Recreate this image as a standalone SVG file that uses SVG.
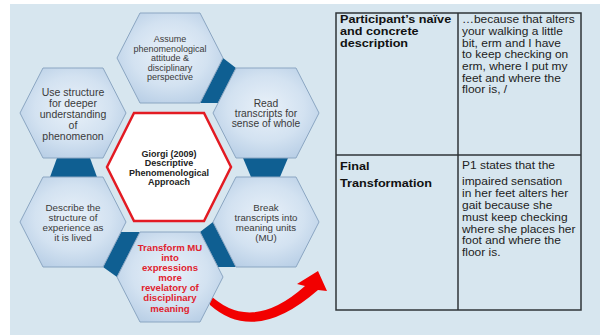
<svg xmlns="http://www.w3.org/2000/svg" width="606" height="335" viewBox="0 0 606 335">
<defs>
<radialGradient id="hexfill" cx="0.5" cy="0.45" r="0.6">
<stop offset="0" stop-color="#e9f1f9"/>
<stop offset="0.6" stop-color="#d3e2f1"/>
<stop offset="1" stop-color="#b9cfe6"/>
</radialGradient>
<style>
.hex{fill:url(#hexfill);stroke:#8ba6c2;stroke-width:1}
.conn{fill:#0f5f92}
.ht{font-family:"Liberation Sans",Arial,sans-serif;fill:#3a3a3a;text-anchor:middle}
.red{font-family:"Liberation Sans",Arial,sans-serif;fill:#e0232e;font-weight:bold;text-anchor:middle;font-size:9.6px}
.ctr{font-family:"Liberation Sans",Arial,sans-serif;fill:#222;font-weight:bold;text-anchor:middle;font-size:9px}
.tb{font-family:"Liberation Sans",Arial,sans-serif;font-size:10.8px;fill:#111;font-weight:bold}
.tr{font-family:"Liberation Sans",Arial,sans-serif;font-size:10.4px;fill:#222}
.cell{fill:none;stroke:#2f3438;stroke-width:1.5}
</style>
</defs>
<rect x="10" y="4" width="590" height="331" fill="#d7e6ef"/>

<g id="connectors">
<polygon class="conn" points="223,58 236,68 218,103 200,103"/>
<polygon class="conn" points="243,158 288,158 280,177 251,177"/>
<polygon class="conn" points="213,222 236,267 218,267 200,232"/>
<polygon class="conn" points="121,232 140,232 117,277 103,267"/>
<polygon class="conn" points="57,158 90,158 97,177 50,177"/>
<path d="M208,293 Q250,335 305,286 L297,284 L318,271 L327,291 L318,290 Q255,345 210,305 Z" fill="#f20000"/>
</g>

<g id="assume">
<polygon class="hex" points="117,58 140,13 200,13 223,58 200,103 140,103"/>
<text class="ht" font-size="9"><tspan x="170" y="42">Assume</tspan><tspan x="170" y="51.5">phenomenological</tspan><tspan x="170" y="61">attitude &amp;</tspan><tspan x="170" y="70.5">disciplinary</tspan><tspan x="170" y="80">perspective</tspan></text>
</g>

<g id="use">
<polygon class="hex" points="20,113 43,68 103,68 126,113 103,158 43,158"/>
<text class="ht" font-size="10.5"><tspan x="73" y="95.5">Use structure</tspan><tspan x="73" y="106.5">for deeper</tspan><tspan x="73" y="117.5">understanding</tspan><tspan x="73" y="128.5">of</tspan><tspan x="73" y="139.5">phenomenon</tspan></text>
</g>

<g id="read">
<polygon class="hex" points="213,113 236,68 296,68 319,113 296,158 236,158"/>
<text class="ht" font-size="10.3"><tspan x="266" y="107">Read</tspan><tspan x="266" y="117">transcripts for</tspan><tspan x="266" y="127">sense of whole</tspan></text>
</g>

<g id="describe">
<polygon class="hex" points="20,222 43,177 103,177 126,222 103,267 43,267"/>
<text class="ht" font-size="9.8"><tspan x="73" y="211">Describe the</tspan><tspan x="73" y="221">structure of</tspan><tspan x="73" y="231">experience as</tspan><tspan x="73" y="241">it is lived</tspan></text>
</g>

<g id="break">
<polygon class="hex" points="213,222 236,177 296,177 319,222 296,267 236,267"/>
<text class="ht" font-size="9.7"><tspan x="266" y="211">Break</tspan><tspan x="266" y="221">transcripts into</tspan><tspan x="266" y="231">meaning units</tspan><tspan x="266" y="241">(MU)</tspan></text>
</g>

<g id="transform">
<polygon class="hex" points="117,277 140,232 200,232 223,277 200,322 140,322"/>
<text class="red"><tspan x="170" y="250.5">Transform MU</tspan><tspan x="170" y="260.7">into</tspan><tspan x="170" y="270.9">expressions</tspan><tspan x="170" y="281">more</tspan><tspan x="170" y="291.2">revelatory of</tspan><tspan x="170" y="301.3">disciplinary</tspan><tspan x="170" y="311.5">meaning</tspan></text>
</g>

<g id="giorgi">
<polygon points="107,167 134,113 204,113 231,167 204,221 134,221" fill="#ffffff" stroke="#e31b23" stroke-width="2.5"/>
<text class="ctr"><tspan x="169" y="156.5">Giorgi (2009)</tspan><tspan x="169" y="166">Descriptive</tspan><tspan x="169" y="175.5">Phenomenological</tspan><tspan x="169" y="185">Approach</tspan></text>
</g>

<g id="table">
<rect class="cell" x="336" y="13" width="245" height="297"/>
<line class="cell" x1="458" y1="13" x2="458" y2="310"/>
<line class="cell" x1="336" y1="155" x2="581" y2="155"/>
<text class="tb" transform="translate(340,0) scale(1.17,1)"><tspan x="0" y="23">Participant’s naïve</tspan><tspan x="0" y="35.3">and concrete</tspan><tspan x="0" y="47.5">description</tspan></text>
<text class="tr" transform="translate(462,0) scale(1.15,1)"><tspan x="0" y="23">…because that alters</tspan><tspan x="0" y="35">your walking a little</tspan><tspan x="0" y="46.7">bit, erm and I have</tspan><tspan x="0" y="58.4">to keep checking on</tspan><tspan x="0" y="70.1">erm, where I put my</tspan><tspan x="0" y="81.8">feet and where the</tspan><tspan x="0" y="93.5">floor is, /</tspan></text>
<text class="tb" transform="translate(340,0) scale(1.17,1)"><tspan x="0" y="170">Final</tspan><tspan x="0" y="187.5">Transformation</tspan></text>
<text class="tr" transform="translate(462,0) scale(1.15,1)"><tspan x="0" y="169">P1 states that the</tspan><tspan x="0" y="185.5">impaired sensation</tspan><tspan x="0" y="197.3">in her feet alters her</tspan><tspan x="0" y="209.1">gait because she</tspan><tspan x="0" y="220.9">must keep checking</tspan><tspan x="0" y="232.7">where she places her</tspan><tspan x="0" y="244.5">foot and where the</tspan><tspan x="0" y="256.3">floor is.</tspan></text>
</g>
</svg>
